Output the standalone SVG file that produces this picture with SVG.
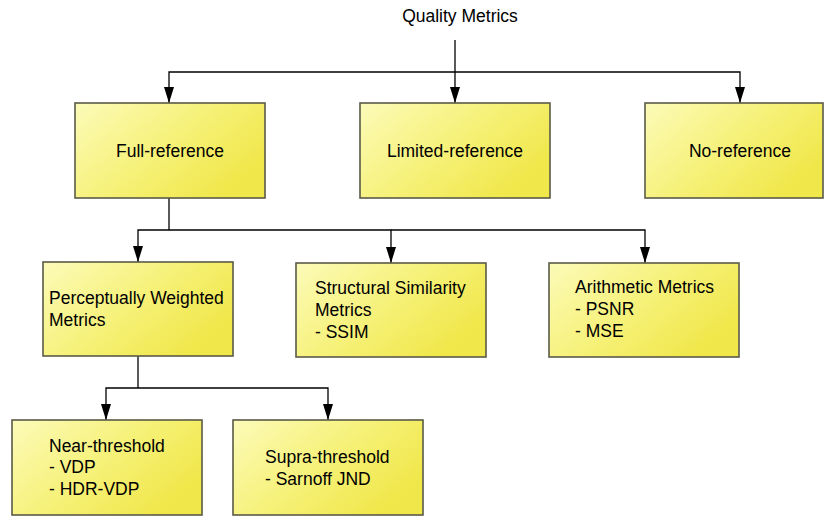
<svg xmlns="http://www.w3.org/2000/svg" width="824" height="516" viewBox="0 0 824 516">
<defs>
<linearGradient id="g" x1="0" y1="0" x2="1" y2="0.6">
<stop offset="0" stop-color="#fcfbb9"/>
<stop offset="0.55" stop-color="#f6f178"/>
<stop offset="1" stop-color="#f0e74a"/>
</linearGradient>
<marker id="arr" markerWidth="16" markerHeight="10" refX="16" refY="5" orient="auto" markerUnits="userSpaceOnUse" viewBox="0 0 16 10">
<path d="M0,0 L16,5 L0,10 Z" fill="#000"/>
</marker>
</defs>
<style>
.box{fill:url(#g);stroke:#5a5a48;stroke-width:1.6}
.t{font-family:"Liberation Sans",Arial,sans-serif;font-size:17.5px;fill:#000}
.c{text-anchor:middle}
.ln{fill:none;stroke:#000;stroke-width:1.3}
.ar{fill:none;stroke:#000;stroke-width:1.3;marker-end:url(#arr)}
</style>
<rect width="824" height="516" fill="#fff"/>
<g id="root"><text class="t c" x="460" y="22">Quality Metrics</text></g>
<g id="connectors">
<line class="ar" x1="455" y1="40" x2="455" y2="103"/>
<polyline class="ar" points="455,72 169,72 169,103"/>
<polyline class="ar" points="455,72 740,72 740,103"/>
<line class="ln" x1="169" y1="198" x2="169" y2="230"/>
<polyline class="ar" points="169,230 138,230 138,262"/>
<polyline class="ar" points="169,230 391,230 391,263"/>
<polyline class="ar" points="391,230 645,230 645,263"/>
<line class="ln" x1="138" y1="356" x2="138" y2="388"/>
<polyline class="ar" points="138,388 106,388 106,420"/>
<polyline class="ar" points="138,388 328,388 328,420"/>
</g>
<g id="full-reference"><rect class="box" x="75" y="103" width="190" height="95"/><text class="t c" x="170" y="157">Full-reference</text></g>
<g id="limited-reference"><rect class="box" x="360" y="103" width="190" height="95"/><text class="t c" x="455" y="157">Limited-reference</text></g>
<g id="no-reference"><rect class="box" x="645" y="103" width="178" height="95"/><text class="t c" x="740" y="157">No-reference</text></g>
<g id="perceptually-weighted"><rect class="box" x="43" y="262" width="190" height="94"/><text class="t" x="49" y="304">Perceptually Weighted</text><text class="t" x="49" y="326">Metrics</text></g>
<g id="structural-similarity"><rect class="box" x="296" y="263" width="190" height="94"/><text class="t" x="315" y="294">Structural Similarity</text><text class="t" x="315" y="316">Metrics</text><text class="t" x="315" y="338">- SSIM</text></g>
<g id="arithmetic"><rect class="box" x="549" y="263" width="190" height="94"/><text class="t" x="575" y="293">Arithmetic Metrics</text><text class="t" x="575" y="315">- PSNR</text><text class="t" x="575" y="337">- MSE</text></g>
<g id="near-threshold"><rect class="box" x="12" y="420" width="190" height="95"/><text class="t" x="49" y="452">Near-threshold</text><text class="t" x="49" y="473">- VDP</text><text class="t" x="49" y="495">- HDR-VDP</text></g>
<g id="supra-threshold"><rect class="box" x="233" y="420" width="190" height="95"/><text class="t" x="265" y="463">Supra-threshold</text><text class="t" x="265" y="485">- Sarnoff JND</text></g>
</svg>
